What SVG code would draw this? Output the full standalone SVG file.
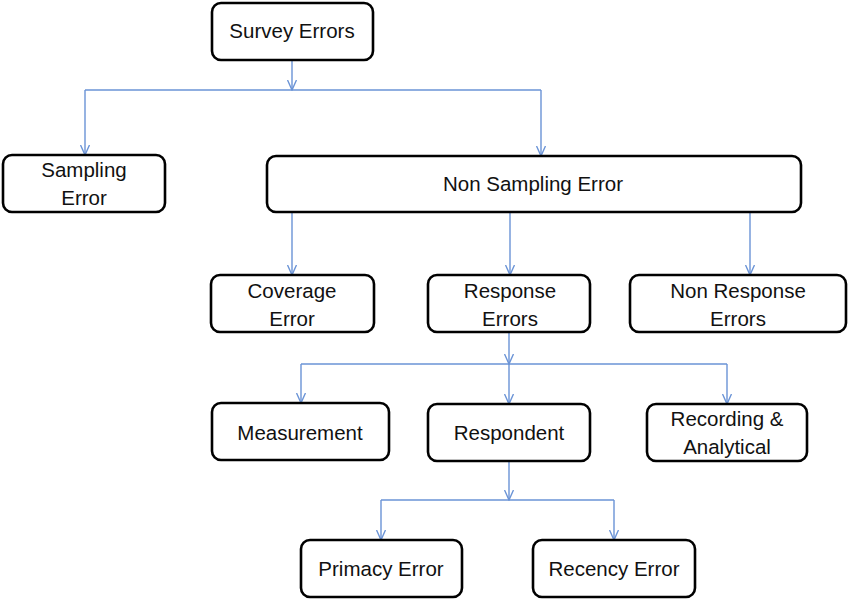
<svg xmlns="http://www.w3.org/2000/svg" width="850" height="599" viewBox="0 0 850 599">
<style>
.box{fill:#fff;stroke:#000;stroke-width:2.6}
.t{font-family:"Liberation Sans",Arial,sans-serif;font-size:20.5px;fill:#111;text-anchor:middle}
.c{stroke:#6a93d6;stroke-width:1.4;fill:none}
.a{marker-end:url(#arr)}
</style>
<defs>
<marker id="arr" markerUnits="userSpaceOnUse" markerWidth="11" markerHeight="10" viewBox="0 0 11 10" refX="10.5" refY="5" orient="auto">
<path d="M0.5,0.5 L10.5,5 L0.5,9.5" fill="none" stroke="#6a93d6" stroke-width="1.4"/>
</marker>
</defs>
<rect width="850" height="599" fill="#fff"/>
<g id="connectors">
<path class="c a" d="M292,60 V90"/>
<path class="c" d="M85,90 H541"/>
<path class="c a" d="M85,90 V155"/>
<path class="c a" d="M541,90 V156"/>
<path class="c a" d="M292,212 V275"/>
<path class="c a" d="M510,212 V275"/>
<path class="c a" d="M750,212 V275"/>
<path class="c a" d="M509,332 V364"/>
<path class="c a" d="M509,364 V404"/>
<path class="c" d="M301,364 H727"/>
<path class="c a" d="M301,364 V403"/>
<path class="c a" d="M727,364 V404"/>
<path class="c a" d="M509,461 V500"/>
<path class="c" d="M381,500 H614"/>
<path class="c a" d="M381,500 V540"/>
<path class="c a" d="M614,500 V540"/>
</g>
<g id="survey-errors"><rect class="box" x="212" y="3" width="161" height="57" rx="9"/><text class="t" x="292" y="38">Survey Errors</text></g>
<g id="sampling-error"><rect class="box" x="3" y="155" width="162" height="57" rx="9"/><text class="t" x="84" y="177">Sampling</text><text class="t" x="84" y="205">Error</text></g>
<g id="non-sampling-error"><rect class="box" x="267" y="156" width="534" height="56" rx="9"/><text class="t" x="533" y="191">Non Sampling Error</text></g>
<g id="coverage-error"><rect class="box" x="211" y="275" width="163" height="57" rx="9"/><text class="t" x="292" y="298">Coverage</text><text class="t" x="292" y="326">Error</text></g>
<g id="response-errors"><rect class="box" x="428" y="275" width="162" height="57" rx="9"/><text class="t" x="510" y="298">Response</text><text class="t" x="510" y="326">Errors</text></g>
<g id="non-response-errors"><rect class="box" x="630" y="275" width="216" height="57" rx="9"/><text class="t" x="738" y="298">Non Response</text><text class="t" x="738" y="326">Errors</text></g>
<g id="measurement"><rect class="box" x="212" y="403" width="177" height="57" rx="9"/><text class="t" x="300" y="440">Measurement</text></g>
<g id="respondent"><rect class="box" x="428" y="404" width="162" height="57" rx="9"/><text class="t" x="509" y="440">Respondent</text></g>
<g id="recording-analytical"><rect class="box" x="647" y="404" width="160" height="57" rx="9"/><text class="t" x="727" y="426">Recording &amp;</text><text class="t" x="727" y="454">Analytical</text></g>
<g id="primacy-error"><rect class="box" x="301" y="540" width="161" height="57" rx="9"/><text class="t" x="381" y="576">Primacy Error</text></g>
<g id="recency-error"><rect class="box" x="533" y="540" width="162" height="57" rx="9"/><text class="t" x="614" y="576">Recency Error</text></g>
</svg>
